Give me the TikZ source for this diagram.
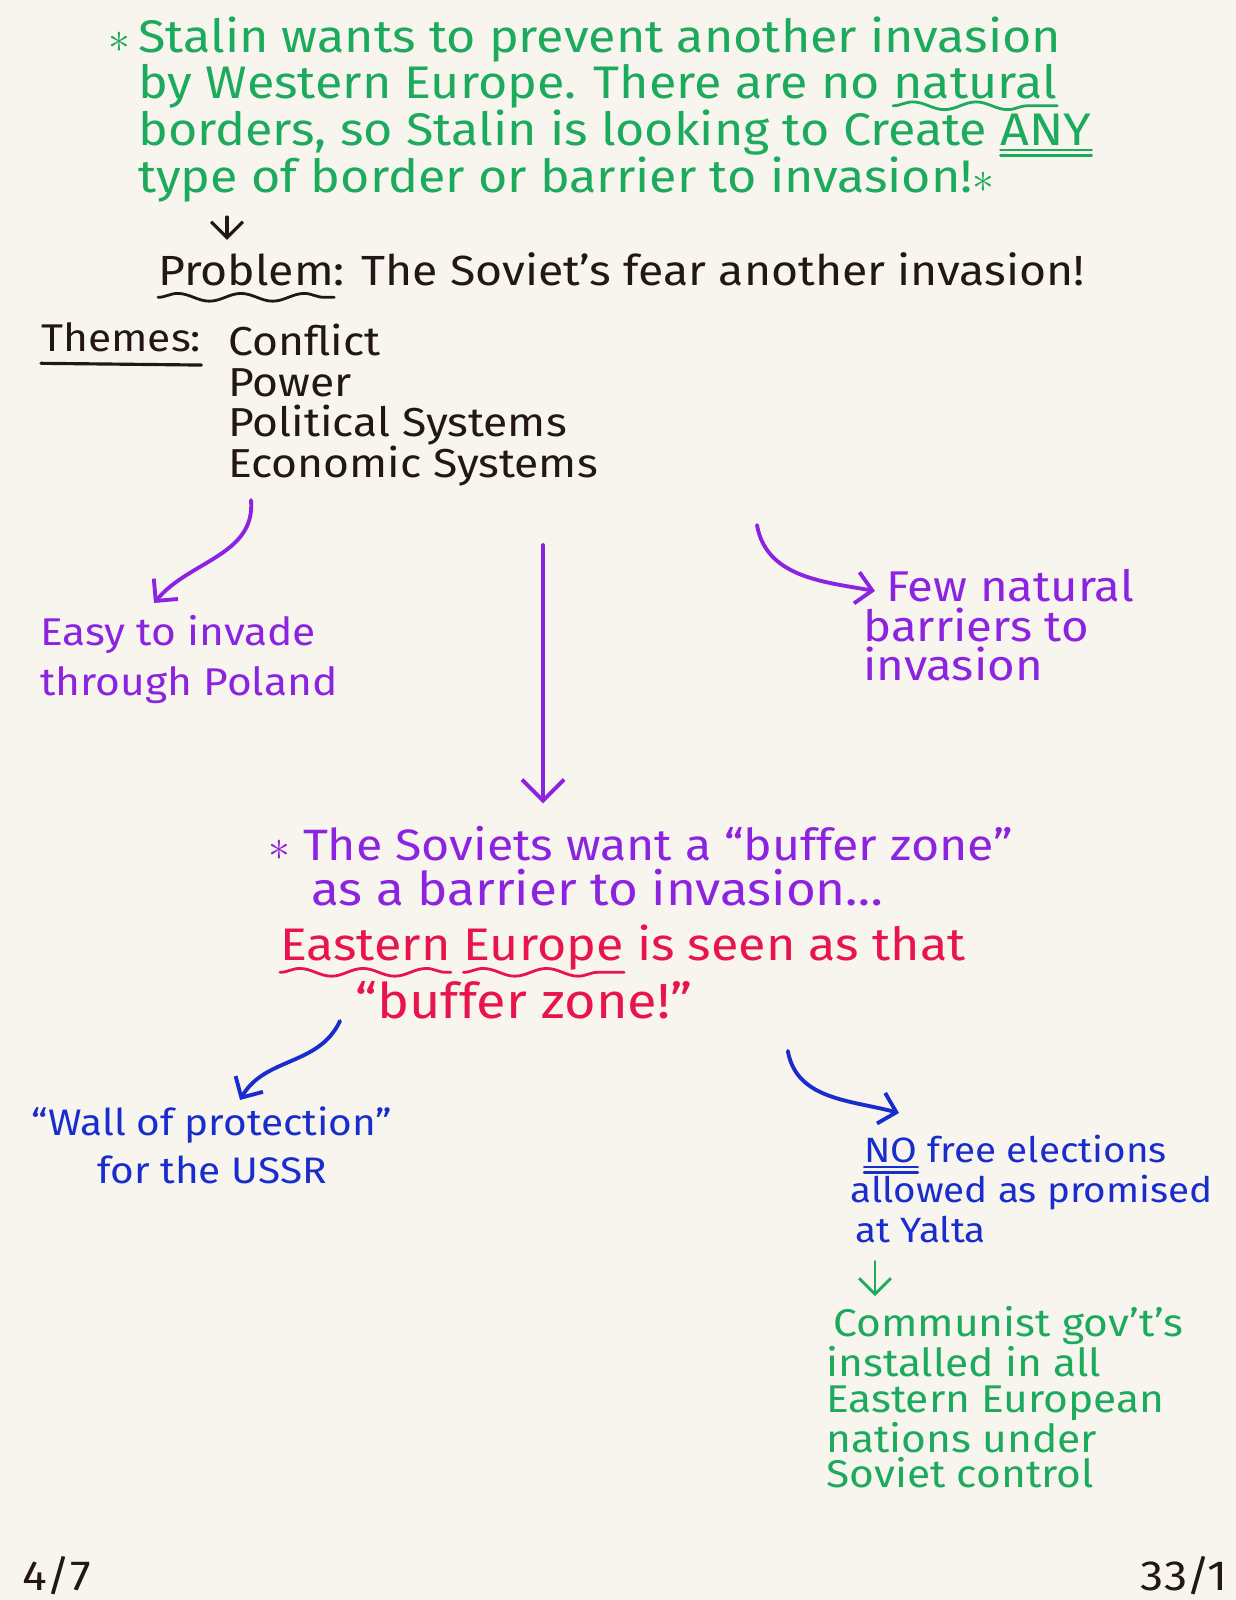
\documentclass[tikz,border=0pt]{standalone}
\usepackage{fontspec}
\setmainfont{Fira Sans}[FakeStretch=1.1]
\usetikzlibrary{arrows.meta,positioning,decorations.pathmorphing}

\definecolor{paper}{RGB}{248,245,239}
\definecolor{inkgreen}{RGB}{28,170,92}
\definecolor{inkblack}{RGB}{35,22,22}
\definecolor{inkpurple}{RGB}{140,35,225}
\definecolor{inkred}{RGB}{232,20,75}
\definecolor{inkblue}{RGB}{25,45,205}

% marker underlines (drawn as overlay, so the line spacing stays)
\newcommand{\wavyul}[2][7pt]{\tikz[baseline=(w.base)]{\node[inner sep=0pt, anchor=base] (w) at (0,0) {#2};
  \draw[overlay, line width=1.6pt, line cap=round, decorate, decoration={snake, amplitude=2.2pt, segment length=36pt}]
    ([yshift=-#1]w.base west) -- ([yshift=-#1]w.base east);}}
\newcommand{\singleul}[1]{\tikz[baseline=(w.base)]{\node[inner sep=0pt, anchor=base] (w) at (0,0) {#1};
  \draw[overlay, line width=1.8pt, line cap=round] ([yshift=-7pt]w.base west) -- ([yshift=-8pt]w.base east);}}
\newcommand{\doubleul}[1]{\tikz[baseline=(w.base)]{\node[inner sep=0pt, anchor=base] (w) at (0,0) {#1};
  \draw[overlay, line width=1.3pt, line cap=round] ([yshift=-2.5pt]w.base west) -- ([yshift=-2.5pt]w.base east)
    ([yshift=-5.5pt]w.base west) -- ([yshift=-5.5pt]w.base east);}}

\begin{document}
\begin{tikzpicture}[x=0.02cm, y=0.02cm,
    hand/.style={inner sep=0pt, align=left, font=\fontsize{26}{24.6}\selectfont},
    pen/.style={line width=2.2pt, line cap=round, -{Straight Barb[length=9pt, width=18pt]}}]
  % paper
  \fill[paper] (0,0) rectangle (1236,-1600);
  \useasboundingbox (0,0) rectangle (1236,-1600);

  % Stalin note at the top
  \node[hand, text=inkgreen, anchor=north west] (stalin) at (138,-17)
    {\llap{$\ast$\,}Stalin wants to prevent another invasion\\
     by Western Europe. There are no \wavyul[4pt]{natural}\\
     borders, so Stalin is looking to Create \doubleul{ANY}\\
     type of border or barrier to invasion!$\ast$};

  % Problem and themes
  \node[hand, text=inkblack, anchor=base west, font=\fontsize{24}{24}\selectfont] (problem) at (158,-285)
    {\wavyul{Problem}: The Soviet's fear another invasion!};
  \draw[pen, draw=inkblack, line width=1.8pt] ([shift={(89,-14)}]stalin.south west) -- ([shift={(69,12)}]problem.north west);

  \node[hand, text=inkblack, anchor=base west, font=\fontsize{22}{22}\selectfont] (themes) at (41,-351) {\singleul{Themes:}};
  \node[hand, text=inkblack, anchor=north west, font=\fontsize{23}{23}\selectfont] (themelist) at (228,-324)
    {Conflict\\ Power\\ Political Systems\\ Economic Systems};

  % purple branches
  \node[hand, text=inkpurple, anchor=north west, font=\fontsize{22}{28.3}\selectfont] (easy) at (40,-615)
    {Easy to invade\\ through Poland};
  \node[hand, text=inkpurple, anchor=north west, font=\fontsize{24.5}{22.5}\selectfont] (few) at (863,-569)
    {\hspace*{13pt}Few natural\\ barriers to\\ invasion};
  \draw[pen, draw=inkpurple] ([shift={(23,-14)}]themelist.south west) to[out=-85, in=50] ([shift={(114,12)}]easy.north west);
  \draw[pen, draw=inkpurple] ([shift={(529,-39)}]themelist.south west) to[out=-80, in=170] ([shift={(12,-22)}]few.north west);

  % buffer zone
  \node[hand, text=inkpurple, anchor=base west, font=\fontsize{25}{25}\selectfont] (buf1) at (268,-860) {$\ast$ The Soviets want a “buffer zone”};
  \node[hand, text=inkpurple, anchor=base west, font=\fontsize{26.5}{26.5}\selectfont] (buf2) at (311,-905) {as a barrier to invasion\ldots};
  \node[hand, text=inkred, anchor=base west] (buf3) at (280,-960) {\wavyul{Eastern} \wavyul{Europe} is seen as that};
  \node[hand, text=inkred, anchor=base west, font=\fontsize{28}{28}\selectfont] (buf4) at (355,-1018) {“buffer zone!”};
  \draw[pen, draw=inkpurple, -{Straight Barb[length=12pt, width=24pt]}] ([shift={(315,-59)}]themelist.south west) -- ([shift={(275,22)}]buf1.north west);

  % blue branches
  \node[hand, text=inkblue, anchor=north, align=center, font=\fontsize{21}{27.8}\selectfont] (wall) at (212,-1106)
    {“Wall of protection”\\ for the USSR};
  \node[hand, text=inkblue, anchor=north west, font=\fontsize{20}{22.7}\selectfont] (elect) at (850,-1135)
    {\hspace*{8pt}\doubleul{NO} free elections\\ allowed as promised\\ \hspace*{3pt}at Yalta};
  \draw[pen, draw=inkblue] ([shift={(-15,-2)}]buf4.south west) to[out=-115, in=60] ([shift={(28,6)}]wall.north);
  \draw[pen, draw=inkblue] ([shift={(95,-32)}]buf4.south east) to[out=-80, in=165] ([shift={(49,22)}]elect.north west);

  % result
  \node[hand, text=inkgreen, anchor=north west, font=\fontsize{22}{20.2}\selectfont] (govt) at (826,-1306)
    {\hspace*{4pt}Communist gov't's\\ installed in all\\ Eastern European\\ nations under\\ Soviet control};
  \draw[pen, draw=inkgreen, line width=1.6pt] ([shift={(25,-18)}]elect.south west) -- ([shift={(49,10)}]govt.north west);

  % page marks
  \node[hand, text=inkblack, anchor=base west, font=\fontsize{24}{24}\selectfont] (date) at (22,-1590) {4/7};
  \node[hand, text=inkblack, anchor=base east, font=\fontsize{24}{24}\selectfont] (page) at (1228,-1590) {33/1};
\end{tikzpicture}
\end{document}
